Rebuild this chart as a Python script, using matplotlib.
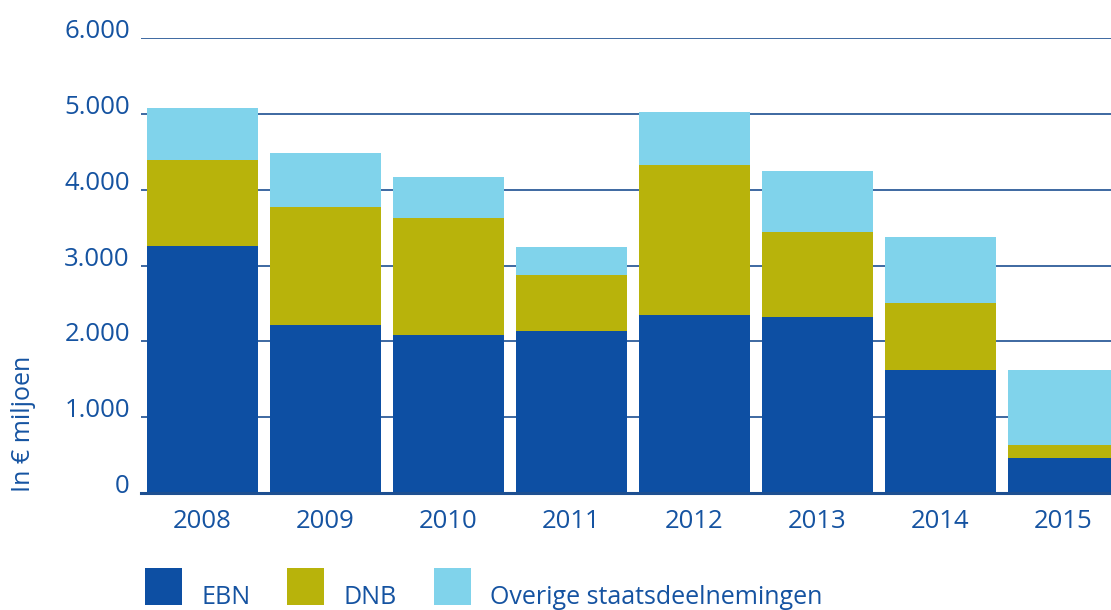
#!/usr/bin/env python3

import matplotlib
matplotlib.use("Agg")
import matplotlib.pyplot as plt
from matplotlib.patches import Rectangle
import numpy as np

# waarden in € miljoen
jaren = ["2008", "2009", "2010", "2011", "2012", "2013", "2014", "2015"]
ebn = [3263, 2211, 2079, 2132, 2355, 2329, 1618, 461]
dnb = [1132, 1565, 1553, 750, 1978, 1109, 895, 171]
overige = [684, 711, 539, 368, 693, 812, 869, 986]

reeksen = ["EBN", "DNB", "Overige staatsdeelnemingen"]
kleuren = ["#0d4fa3", "#b8b30b", "#80d3eb"]
yticks = [0, 1000, 2000, 3000, 4000, 5000, 6000]
ytick_labels = ["0", "1.000", "2.000", "3.000", "4.000", "5.000", "6.000"]

tekst_kleur = "#1553a1"
lijn_kleur = "#1d4f91"

plt.rcParams["font.family"] = ["Open Sans", "DejaVu Sans"]

fig = plt.figure(figsize=(11.11, 6.10), dpi=100)
ax = fig.add_axes([141 / 1111, 1 - 493 / 610, 1 - 141 / 1111, (493 - 38.3) / 610])

x = np.arange(len(jaren))
onder = np.zeros(len(jaren))
for waarden, kleur in zip([ebn, dnb, overige], kleuren):
	ax.bar(x, waarden, 0.9, bottom=onder, color=kleur, zorder=2)
	onder += np.array(waarden)

ax.set_xlim(-0.5, (1111 - 202.5) / 123)
ax.set_ylim(0, 6000)
ax.set_yticks(yticks)
ax.set_yticklabels(ytick_labels)
ax.set_xticks(x)
ax.set_xticklabels(jaren)

ax.grid(axis="y", color=lijn_kleur, linewidth=1.2, zorder=1)
ax.set_axisbelow(True)
for kant in ["top", "right", "left"]:
	ax.spines[kant].set_visible(False)
ax.spines["bottom"].set_color(lijn_kleur)
ax.spines["bottom"].set_linewidth(2.2)
ax.spines["bottom"].set_zorder(3)

ax.tick_params(axis="both", length=0, labelsize=18.5, labelcolor=tekst_kleur)
ax.tick_params(axis="y", pad=8)
ax.tick_params(axis="x", pad=11.5)
for lab in ax.get_yticklabels():
	lab.set_va("baseline")

fig.text(23 / 1111, 1 - 492 / 610, "In € miljoen", rotation=90, ha="center",
		 va="bottom", fontsize=18, color=tekst_kleur)

# legenda onderaan
vak_x = [145, 287, 434]
for naam, kleur, vx in zip(reeksen, kleuren, vak_x):
	fig.patches.append(Rectangle((vx / 1111, 1 - 605 / 610), 37 / 1111, 37 / 610,
								 transform=fig.transFigure, facecolor=kleur, edgecolor="none"))
	fig.text((vx + 56) / 1111, 1 - 604 / 610, naam, ha="left", va="baseline",
			 fontsize=18, color=tekst_kleur)

fig.savefig("out.png", dpi=100)
